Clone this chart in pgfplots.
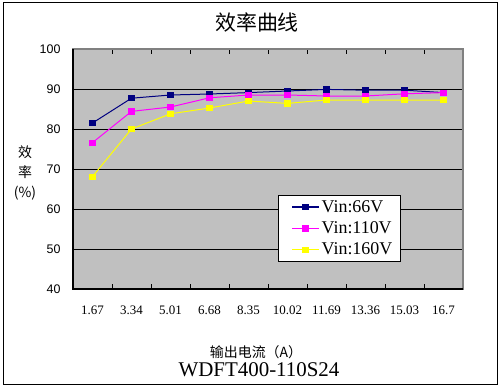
\documentclass[border=0pt]{standalone}
\usepackage{pgfplots}
\pgfplotsset{compat=1.18}
\usepackage{fontspec}
\setmainfont{Liberation Serif}
\newfontfamily\cjk{Noto Sans CJK SC}
\newfontfamily\sansf{Liberation Sans}
\definecolor{navyc}{RGB}{0,0,128}
\definecolor{magc}{RGB}{255,0,255}
\definecolor{yelc}{RGB}{255,255,0}
\definecolor{plotbg}{RGB}{192,192,192}
\definecolor{framec}{RGB}{128,128,128}
\begin{document}
\begin{tikzpicture}
\path[use as bounding box, fill=white] (0,0) rectangle (501bp,387bp);
\draw[black, line width=1bp] (3bp,2.5bp) rectangle (497bp,384.5bp);
\begin{axis}[
  at={(73bp,98bp)}, anchor=south west,
  scale only axis, width=390bp, height=240bp,
  xmin=0.5, xmax=10.5, ymin=40, ymax=100,
  axis background/.style={fill=plotbg},
  axis line style={draw=framec, line width=1.2bp},
  xtick={1,...,10},
  xticklabels={1.67,3.34,5.01,6.68,8.35,10.02,11.69,13.36,15.03,16.7},
  minor xtick={1.5,2.5,3.5,4.5,5.5,6.5,7.5,8.5,9.5},
  major tick length=0pt, minor tick length=4.5bp, tick align=inside,
  tick style={black, line width=0.8bp},
  ytick={50,60,70,80,90},
  extra y ticks={40,100},
  extra y tick style={grid=none},
  ymajorgrids, major grid style={black, line width=0.9bp, solid},
  /pgf/number format/assume math mode=true,
  yticklabel style={font=\sansf\fontsize{12.5}{14}\selectfont, anchor=east, xshift=-9bp},
  xticklabel style={font=\fontsize{13}{15}\selectfont, anchor=base, yshift=-26bp},
  legend style={at={(0.526,0.392)}, anchor=north west, draw=black, fill=white,
    line width=0.8bp, font=\fontsize{18}{19}\selectfont, inner xsep=6bp, inner ysep=3bp,
    row sep=4bp},
  legend cell align=left,
  legend image code/.code={\path (0bp,0bp); \draw[mark repeat=2,mark phase=2,line width=1.3bp] plot coordinates {(7bp,0bp)(20.5bp,0bp)(34bp,0bp)};},
  every axis plot/.append style={line width=1bp},
  clip=false,
]
\addplot[navyc, mark=square*, mark size=2.6bp, mark options={solid}] coordinates {
 (1,81.5)(2,87.7)(3,88.5)(4,88.75)(5,89.1)(6,89.5)(7,89.9)(8,89.7)(9,89.7)(10,89.1)};
\addlegendentry{Vin:66V}
\addplot[magc, mark=square*, mark size=2.6bp] coordinates {
 (1,76.6)(2,84.4)(3,85.5)(4,87.8)(5,88.5)(6,88.5)(7,88.25)(8,88.25)(9,88.8)(10,89.1)};
\addlegendentry{Vin:110V}
\addplot[yelc, mark=square*, mark size=2.6bp] coordinates {
 (1,68.1)(2,80.0)(3,83.8)(4,85.25)(5,87.0)(6,86.4)(7,87.25)(8,87.25)(9,87.25)(10,87.25)};
\addlegendentry{Vin:160V}
\draw[black, line width=1.2bp] (rel axis cs:0,1) -- (rel axis cs:0,0) -- (rel axis cs:1,0);
\end{axis}
\node[font=\cjk\fontsize{21}{23}\selectfont] at (257bp,364bp) {效率曲线};
\node[font=\cjk\fontsize{14}{16}\selectfont] at (25bp,235bp) {效};
\node[font=\cjk\fontsize{14}{16}\selectfont] at (25bp,215bp) {率};
\node[font=\cjk\fontsize{14}{16}\selectfont] at (25bp,194bp) {(\%)};
\node[font=\cjk\fontsize{14}{16}\selectfont] at (256bp,35bp) {输出电流（A）};
\node[font=\fontsize{21}{23}\selectfont] at (259bp,17bp) {WDFT400-110S24};
\end{tikzpicture}
\end{document}
